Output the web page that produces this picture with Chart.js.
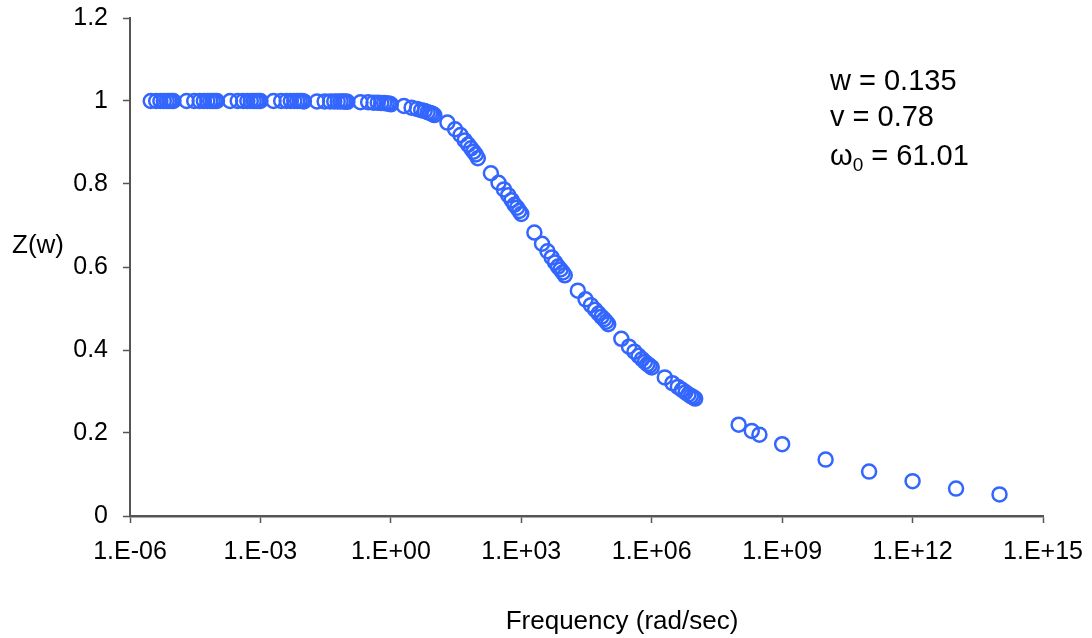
<!DOCTYPE html>
<html>
<head>
<meta charset="utf-8">
<script src="https://cdn.jsdelivr.net/npm/chart.js@4/dist/chart.umd.min.js"></script>
<style>
  html, body { margin: 0; padding: 0; background: #fff; }
  canvas { display: block; }
</style>
</head>
<body>
<canvas id="chart" width="1092" height="638"></canvas>
<script>
// frequencies (rad/sec), sampled 1..9 per decade up to 1e7, then sparse
const freq = [
  3e-6, 4e-6, 5e-6, 6e-6, 7e-6, 8e-6, 9e-6,
  1e-5, 2e-5, 3e-5, 4e-5, 5e-5, 6e-5, 7e-5, 8e-5, 9e-5,
  1e-4, 2e-4, 3e-4, 4e-4, 5e-4, 6e-4, 7e-4, 8e-4, 9e-4,
  1e-3, 2e-3, 3e-3, 4e-3, 5e-3, 6e-3, 7e-3, 8e-3, 9e-3,
  1e-2, 2e-2, 3e-2, 4e-2, 5e-2, 6e-2, 7e-2, 8e-2, 9e-2,
  0.1, 0.2, 0.3, 0.4, 0.5, 0.6, 0.7, 0.8, 0.9,
  1, 2, 3, 4, 5, 6, 7, 8, 9,
  10, 20, 30, 40, 50, 60, 70, 80, 90,
  100, 200, 300, 400, 500, 600, 700, 800, 900,
  1e3, 2e3, 3e3, 4e3, 5e3, 6e3, 7e3, 8e3, 9e3,
  1e4, 2e4, 3e4, 4e4, 5e4, 6e4, 7e4, 8e4, 9e4,
  1e5, 2e5, 3e5, 4e5, 5e5, 6e5, 7e5, 8e5, 9e5,
  1e6, 2e6, 3e6, 4e6, 5e6, 6e6, 7e6, 8e6, 9e6,
  1e7,
  1e8, 2e8, 3e8,
  1e9, 1e10, 1e11, 1e12, 1e13, 1e14
];

const zValues = [
  1.000, 1.000, 1.000, 1.000, 1.000, 1.000, 1.000,
  1.000, 1.000, 1.000, 1.000, 1.000, 1.000, 1.000, 1.000, 1.000,
  1.000, 1.000, 1.000, 1.000, 1.000, 1.000, 1.000, 1.000, 1.000,
  1.000, 1.000, 1.000, 1.000, 1.000, 1.000, 1.000, 1.000, 1.000,
  0.999, 0.999, 0.999, 0.999, 0.999, 0.999, 0.999, 0.999, 0.999,
  0.998, 0.997, 0.997, 0.996, 0.996, 0.995, 0.995, 0.994, 0.994,
  0.992, 0.988, 0.984, 0.981, 0.978, 0.976, 0.973, 0.971, 0.969,
  0.966, 0.948, 0.932, 0.918, 0.905, 0.895, 0.886, 0.878, 0.871,
  0.862, 0.826, 0.803, 0.787, 0.773, 0.761, 0.750, 0.743, 0.735,
  0.728, 0.683, 0.656, 0.638, 0.623, 0.611, 0.601, 0.594, 0.587,
  0.580, 0.543, 0.522, 0.508, 0.497, 0.488, 0.480, 0.474, 0.468,
  0.462, 0.427, 0.408, 0.396, 0.386, 0.378, 0.371, 0.366, 0.362,
  0.358, 0.334, 0.320, 0.311, 0.304, 0.298, 0.293, 0.289, 0.286,
  0.283,
  0.220, 0.205, 0.196,
  0.173, 0.136, 0.107, 0.084, 0.066, 0.052
];

const xTicks = [1e-6, 1e-3, 1e0, 1e3, 1e6, 1e9, 1e12, 1e15];
const yTicks = [0, 0.2, 0.4, 0.6, 0.8, 1, 1.2];

const params = [
  { name: "w", sub: "", value: "0.135" },
  { name: "v", sub: "", value: "0.78" },
  { name: "ω", sub: "0", value: "61.01" },
];

const FONT = "'Liberation Sans', Arial, sans-serif";
const AXIS_COLOR = "#555555";
const MARKER_COLOR = "#3366ff";

// "1.E-06" style exponent labels
function expLabel(v) {
  const e = Math.round(Math.log10(v));
  return "1.E" + (e < 0 ? "-" : "+") + String(Math.abs(e)).padStart(2, "0");
}

// axis titles and the parameter block at the top right
const textPlugin = {
  id: "textPlugin",
  afterDraw(chart) {
    const ctx = chart.ctx;
    ctx.save();
    ctx.fillStyle = "#000";
    ctx.textBaseline = "middle";
    ctx.font = "26px " + FONT;
    ctx.textAlign = "left";
    ctx.fillText("Z(w)", 12, 246);
    ctx.textAlign = "center";
    ctx.fillText("Frequency (rad/sec)", 622, 622);

    const size = 29;
    const left = 830;
    const rows = [80, 116, 155];
    ctx.textAlign = "left";
    ctx.textBaseline = "alphabetic";
    params.forEach((p, i) => {
      const base = rows[i] + size * 0.36;
      let x = left;
      ctx.font = size + "px " + FONT;
      ctx.fillText(p.name, x, base);
      x += ctx.measureText(p.name).width;
      if (p.sub) {
        ctx.font = Math.round(size * 0.65) + "px " + FONT;
        ctx.fillText(p.sub, x, base + 6);
        x += ctx.measureText(p.sub).width;
        ctx.font = size + "px " + FONT;
      }
      ctx.fillText(" = " + p.value, x, base);
    });
    ctx.restore();
  },
};

const data = {
  datasets: [
    {
      data: freq.map((f, i) => ({ x: f, y: zValues[i] })),
      showLine: false,
      pointStyle: "circle",
      pointRadius: 7,
      pointHoverRadius: 7,
      borderWidth: 2.5,
      borderColor: MARKER_COLOR,
      backgroundColor: "rgba(0,0,0,0)",
    },
  ],
};

const config = {
  type: "scatter",
  data,
  plugins: [textPlugin],
  options: {
    responsive: false,
    animation: false,
    layout: {
      padding: { top: 18, right: 49, bottom: 0, left: 0 },
    },
    scales: {
      x: {
        type: "logarithmic",
        min: 1e-6,
        max: 1e15,
        afterBuildTicks: (scale) => {
          scale.ticks = xTicks.map((v) => ({ value: v }));
        },
        afterFit: (scale) => {
          scale.height = 122;
          scale.paddingLeft = 0;
          scale.paddingRight = 0;
        },
        grid: {
          drawOnChartArea: false,
          drawTicks: true,
          tickLength: 7,
          tickColor: AXIS_COLOR,
          tickWidth: 1.5,
        },
        border: { display: true, color: AXIS_COLOR, width: 2.5 },
        ticks: {
          autoSkip: false,
          maxRotation: 0,
          padding: 14,
          color: "#000",
          font: { family: FONT, size: 25 },
          callback: (v) => expLabel(v),
        },
      },
      y: {
        min: 0,
        max: 1.2,
        afterBuildTicks: (scale) => {
          scale.ticks = yTicks.map((v) => ({ value: v }));
        },
        afterFit: (scale) => {
          scale.width = 130;
          scale.paddingTop = 0;
          scale.paddingBottom = 0;
        },
        grid: {
          drawOnChartArea: false,
          drawTicks: true,
          tickLength: 7,
          tickColor: AXIS_COLOR,
          tickWidth: 1.5,
        },
        border: { display: true, color: AXIS_COLOR, width: 2 },
        ticks: {
          padding: 15,
          color: "#000",
          font: { family: FONT, size: 25 },
          callback: (v) => String(Math.round(v * 10) / 10),
        },
      },
    },
    plugins: {
      legend: { display: false },
      tooltip: { enabled: false },
      title: { display: false },
    },
  },
};

function createChart(selector) {
  return new Chart(document.querySelector(selector), config);
}

createChart("#chart");
</script>
</body>
</html>
